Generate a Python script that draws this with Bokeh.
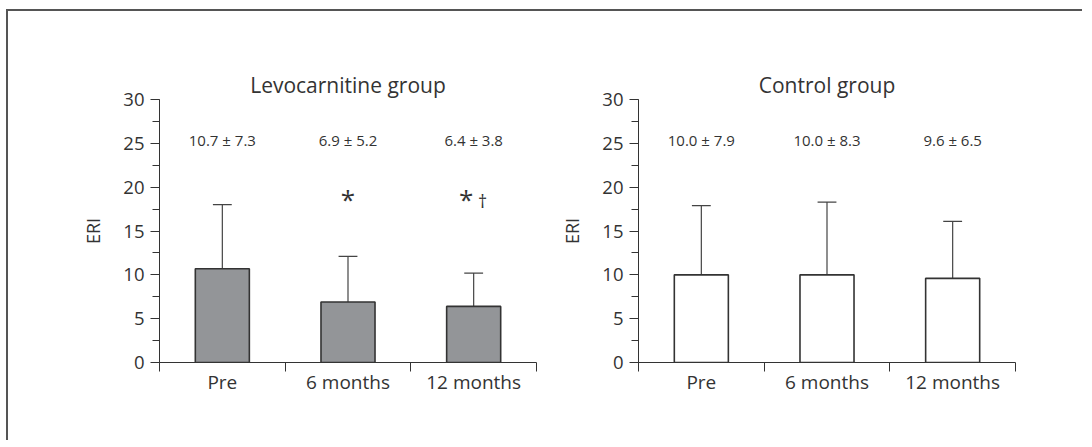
from bokeh.plotting import figure
from bokeh.layouts import row
from bokeh.models import FixedTicker, SingleIntervalTicker, ColumnDataSource, Range1d
from bokeh.core.properties import value
from bokeh.embed import file_html
from bokeh.resources import INLINE

categories = ["Pre", "6 months", "12 months"]
levo_mean = [10.7, 6.9, 6.4]
levo_sd = [7.3, 5.2, 3.8]
ctrl_mean = [10.0, 10.0, 9.6]
ctrl_sd = [7.9, 8.3, 6.5]
levo_star = ["", "*", "*"]
levo_dagger = ["", "", "†"]
ctrl_star = ["", "", ""]
ctrl_dagger = ["", "", ""]
y_ticks_interval = 5
y_max = 30

FONT = "Open Sans"
INK = "#333333"


def make_panel(title, means, sds, stars, daggers, fill, width, bl, br):
    n = len(categories)
    p = figure(width=width, height=429, output_backend="svg", toolbar_location=None,
               x_range=Range1d(0, n), y_range=Range1d(0, y_max),
               min_border_left=bl, min_border_right=br, min_border_top=88,
               min_border_bottom=78, title=title)
    p.outline_line_color = None
    p.grid.visible = False
    p.background_fill_color = "white"
    p.border_fill_color = "white"

    p.title.align = "center"
    p.title.text_font = FONT
    p.title.text_font_size = "21px"
    p.title.text_font_style = "normal"
    p.title.text_color = INK
    p.title.standoff = 2

    xs = [i + 0.5 for i in range(n)]
    tops = [m + s for m, s in zip(means, sds)]
    labels = [f"{m:.1f} ± {s:.1f}" for m, s in zip(means, sds)]
    src = ColumnDataSource(dict(x=xs, top=means, err=tops, lab=labels,
                                star=stars, dag=daggers,
                                cl=[x - 0.075 for x in xs], cr=[x + 0.075 for x in xs]))

    p.segment(x0="x", y0="top", x1="x", y1="err", source=src, line_color="#444444", line_width=1.2)
    p.segment(x0="cl", y0="err", x1="cr", y1="err", source=src, line_color="#444444", line_width=1.2)
    p.vbar(x="x", top="top", bottom=0, width=0.43, source=src, fill_color=fill,
           line_color=INK, line_width=1.6)

    p.text(x="x", y=25.4, text="lab", source=src, text_align="center", text_baseline="middle",
           text_font=value(FONT), text_font_size="15px", text_color=INK)
    is_double = [1 if d else 0 for d in daggers]
    src.data["sx"] = [x - 0.06 * k for x, k in zip(xs, is_double)]
    src.data["dx"] = [x + 0.07 for x in xs]
    p.text(x="sx", y=18.7, text="star", source=src, text_align="center", text_baseline="middle",
           text_font=value(FONT), text_font_size="26px", text_color=INK)
    p.text(x="dx", y=18.4, text="dag", source=src, text_align="center", text_baseline="middle",
           text_font=value(FONT), text_font_size="18px", text_color=INK)

    # y axis
    ya = p.yaxis[0]
    ya.ticker = SingleIntervalTicker(interval=y_ticks_interval, num_minor_ticks=2)
    ya.axis_label = "ERI"
    ya.axis_label_text_font = FONT
    ya.axis_label_text_font_size = "18px"
    ya.axis_label_text_font_style = "normal"
    ya.axis_label_text_color = INK
    ya.axis_label_standoff = 15
    ya.major_label_text_font = FONT
    ya.major_label_text_font_size = "18.5px"
    ya.major_label_text_color = INK
    ya.major_label_standoff = 6
    ya.major_tick_in = 0
    ya.major_tick_out = 9
    ya.minor_tick_in = 0
    ya.minor_tick_out = 7
    ya.axis_line_color = INK
    ya.major_tick_line_color = INK
    ya.minor_tick_line_color = INK

    # x axis: labels at centers, ticks at boundaries
    xa = p.xaxis[0]
    xa.ticker = FixedTicker(ticks=xs, minor_ticks=list(range(n + 1)))
    xa.major_label_overrides = {x: c for x, c in zip(xs, categories)}
    xa.major_tick_line_color = None
    xa.major_tick_in = 0
    xa.major_tick_out = 0
    xa.minor_tick_in = 0
    xa.minor_tick_out = 9
    xa.minor_tick_line_color = INK
    xa.axis_line_color = INK
    xa.major_label_text_font = FONT
    xa.major_label_text_font_size = "19px"
    xa.major_label_text_color = INK
    xa.major_label_standoff = -3
    return p


p1 = make_panel("Levocarnitine group", levo_mean, levo_sd, levo_star, levo_dagger,
                "#939598", 536, 151, 8)
p2 = make_panel("Control group", ctrl_mean, ctrl_sd, ctrl_star, ctrl_dagger,
                "white", 538, 94, 67)

layout = row(p1, p2, styles={"border-top": "2px solid #555555",
                             "border-left": "2px solid #555555",
                             "margin": "9px 0px 0px 6px"})

open("out.html", "w").write(file_html(layout, INLINE))
